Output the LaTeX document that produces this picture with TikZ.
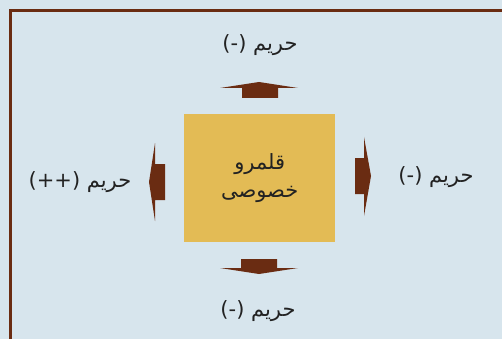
\documentclass[tikz,border=0pt]{standalone}
\usepackage{fontspec}
\TeXXeTstate=1
\newfontfamily\arabicfont[Script=Arabic]{DejaVu Sans}
\definecolor{bgc}{HTML}{D7E5ED}
\definecolor{brn}{HTML}{6A2C12}
\definecolor{gld}{HTML}{E3BB55}
\definecolor{txt}{HTML}{222222}
\tikzset{
  lbl/.style={text=txt, font=\arabicfont\fontsize{21}{28}\selectfont, inner sep=0pt},
  arr/.style={fill=brn, draw=none}
}
\begin{document}
\begin{tikzpicture}[x=1pt,y=-1pt]
\useasboundingbox (0,0) rectangle (502,339);
\fill[bgc] (0,0) rectangle (502,339);
\draw[brn, line width=2.5pt] (10.5,339) -- (10.5,10.5) -- (502,10.5);
% central box
\node[fill=gld, minimum width=151pt, minimum height=128pt, inner sep=0pt, anchor=north west,
  lbl, align=center] (box) at (184,114) {\beginR قلمرو\endR\\\beginR خصوصی\endR};
% arrows
\fill[arr] (242,98) -- (242,88) -- (220,88) -- (259,82) -- (298,88) -- (278,88) -- (278,98) -- cycle;
\fill[arr] (241,259) -- (241,268) -- (220,268) -- (259,274) -- (298,268) -- (277,268) -- (277,259) -- cycle;
\fill[arr] (165,164) -- (155,164) -- (155,143) -- (149,182) -- (155,221) -- (155,200) -- (165,200) -- cycle;
\fill[arr] (355,158) -- (364,158) -- (364,137) -- (371,176) -- (364,216) -- (364,194) -- (355,194) -- cycle;
% labels
\node[lbl] (top) at (260,45) {(-)~\beginR حریم\endR};
\node[lbl] (bot) at (258,311) {(-)~\beginR حریم\endR};
\node[lbl] (lft) at (80,182) {(++)~\beginR حریم\endR};
\node[lbl] (rgt) at (436,177) {(-)~\beginR حریم\endR};
\end{tikzpicture}
\end{document}
